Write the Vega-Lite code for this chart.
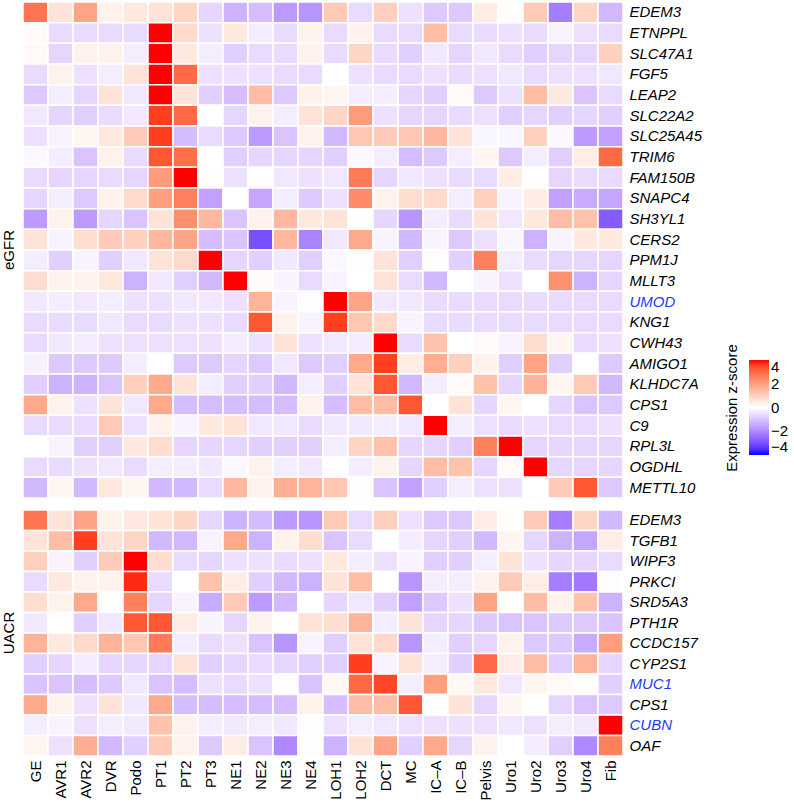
{
"$schema": "https://vega.github.io/schema/vega-lite/v6.json",
"padding": {"left": 2, "top": 1, "right": 0, "bottom": 0},
"background": "white",
"config": {"view": {"stroke": null}, "font": "Liberation Sans", "concat": {"spacing": 10}},
"datasets": {
"egfr": [
{"g":"EDEM3","c":"GE","z":2.8},{"g":"EDEM3","c":"AVR1","z":0.6},{"g":"EDEM3","c":"AVR2","z":1.9},{"g":"EDEM3","c":"DVR","z":0.3},{"g":"EDEM3","c":"Podo","z":0.5},{"g":"EDEM3","c":"PT1","z":0.6},{"g":"EDEM3","c":"PT2","z":0.9},{"g":"EDEM3","c":"PT3","z":-0.7},{"g":"EDEM3","c":"NE1","z":-1.3},{"g":"EDEM3","c":"NE2","z":-1.1},{"g":"EDEM3","c":"NE3","z":-1.7},{"g":"EDEM3","c":"NE4","z":-1.8},{"g":"EDEM3","c":"LOH1","z":1.1},{"g":"EDEM3","c":"LOH2","z":-0.6},{"g":"EDEM3","c":"DCT","z":1.0},{"g":"EDEM3","c":"MC","z":-0.5},{"g":"EDEM3","c":"IC–A","z":-0.9},{"g":"EDEM3","c":"IC–B","z":-0.9},{"g":"EDEM3","c":"Pelvis","z":0.4},{"g":"EDEM3","c":"Uro1","z":0.05},{"g":"EDEM3","c":"Uro2","z":1.1},{"g":"EDEM3","c":"Uro3","z":-2.2},{"g":"EDEM3","c":"Uro4","z":0.9},{"g":"EDEM3","c":"Fib","z":-1.2},
{"g":"ETNPPL","c":"GE","z":0.1},{"g":"ETNPPL","c":"AVR1","z":-0.6},{"g":"ETNPPL","c":"AVR2","z":-0.6},{"g":"ETNPPL","c":"DVR","z":-0.6},{"g":"ETNPPL","c":"Podo","z":-0.6},{"g":"ETNPPL","c":"PT1","z":4.5},{"g":"ETNPPL","c":"PT2","z":0.8},{"g":"ETNPPL","c":"PT3","z":-0.5},{"g":"ETNPPL","c":"NE1","z":0.5},{"g":"ETNPPL","c":"NE2","z":-0.3},{"g":"ETNPPL","c":"NE3","z":-0.6},{"g":"ETNPPL","c":"NE4","z":0.3},{"g":"ETNPPL","c":"LOH1","z":-0.6},{"g":"ETNPPL","c":"LOH2","z":0.3},{"g":"ETNPPL","c":"DCT","z":-0.6},{"g":"ETNPPL","c":"MC","z":-0.6},{"g":"ETNPPL","c":"IC–A","z":1.4},{"g":"ETNPPL","c":"IC–B","z":-0.6},{"g":"ETNPPL","c":"Pelvis","z":-0.6},{"g":"ETNPPL","c":"Uro1","z":-0.5},{"g":"ETNPPL","c":"Uro2","z":-0.6},{"g":"ETNPPL","c":"Uro3","z":-0.2},{"g":"ETNPPL","c":"Uro4","z":-0.5},{"g":"ETNPPL","c":"Fib","z":-0.6},
{"g":"SLC47A1","c":"GE","z":0.1},{"g":"SLC47A1","c":"AVR1","z":-0.7},{"g":"SLC47A1","c":"AVR2","z":0.3},{"g":"SLC47A1","c":"DVR","z":0.3},{"g":"SLC47A1","c":"Podo","z":-0.3},{"g":"SLC47A1","c":"PT1","z":4.5},{"g":"SLC47A1","c":"PT2","z":0.5},{"g":"SLC47A1","c":"PT3","z":-0.3},{"g":"SLC47A1","c":"NE1","z":-0.8},{"g":"SLC47A1","c":"NE2","z":-0.6},{"g":"SLC47A1","c":"NE3","z":-0.6},{"g":"SLC47A1","c":"NE4","z":0.3},{"g":"SLC47A1","c":"LOH1","z":-0.6},{"g":"SLC47A1","c":"LOH2","z":0.9},{"g":"SLC47A1","c":"DCT","z":-0.6},{"g":"SLC47A1","c":"MC","z":-0.8},{"g":"SLC47A1","c":"IC–A","z":-0.4},{"g":"SLC47A1","c":"IC–B","z":-0.7},{"g":"SLC47A1","c":"Pelvis","z":-0.4},{"g":"SLC47A1","c":"Uro1","z":-0.6},{"g":"SLC47A1","c":"Uro2","z":-0.8},{"g":"SLC47A1","c":"Uro3","z":-0.7},{"g":"SLC47A1","c":"Uro4","z":-0.7},{"g":"SLC47A1","c":"Fib","z":1.0},
{"g":"FGF5","c":"GE","z":-0.6},{"g":"FGF5","c":"AVR1","z":0.3},{"g":"FGF5","c":"AVR2","z":-0.5},{"g":"FGF5","c":"DVR","z":-0.3},{"g":"FGF5","c":"Podo","z":0.6},{"g":"FGF5","c":"PT1","z":4.5},{"g":"FGF5","c":"PT2","z":3.0},{"g":"FGF5","c":"PT3","z":-0.5},{"g":"FGF5","c":"NE1","z":-0.5},{"g":"FGF5","c":"NE2","z":-0.5},{"g":"FGF5","c":"NE3","z":-0.6},{"g":"FGF5","c":"NE4","z":-0.6},{"g":"FGF5","c":"LOH1","z":0.0},{"g":"FGF5","c":"LOH2","z":-0.5},{"g":"FGF5","c":"DCT","z":-0.6},{"g":"FGF5","c":"MC","z":-0.6},{"g":"FGF5","c":"IC–A","z":-0.5},{"g":"FGF5","c":"IC–B","z":-0.6},{"g":"FGF5","c":"Pelvis","z":-0.5},{"g":"FGF5","c":"Uro1","z":-0.4},{"g":"FGF5","c":"Uro2","z":-0.6},{"g":"FGF5","c":"Uro3","z":-0.5},{"g":"FGF5","c":"Uro4","z":-0.5},{"g":"FGF5","c":"Fib","z":-0.4},
{"g":"LEAP2","c":"GE","z":-0.9},{"g":"LEAP2","c":"AVR1","z":-0.3},{"g":"LEAP2","c":"AVR2","z":-0.7},{"g":"LEAP2","c":"DVR","z":0.6},{"g":"LEAP2","c":"Podo","z":-0.4},{"g":"LEAP2","c":"PT1","z":4.5},{"g":"LEAP2","c":"PT2","z":0.6},{"g":"LEAP2","c":"PT3","z":-0.8},{"g":"LEAP2","c":"NE1","z":-1.1},{"g":"LEAP2","c":"NE2","z":1.4},{"g":"LEAP2","c":"NE3","z":-0.9},{"g":"LEAP2","c":"NE4","z":0.3},{"g":"LEAP2","c":"LOH1","z":0.2},{"g":"LEAP2","c":"LOH2","z":-0.3},{"g":"LEAP2","c":"DCT","z":-0.3},{"g":"LEAP2","c":"MC","z":-0.7},{"g":"LEAP2","c":"IC–A","z":-0.8},{"g":"LEAP2","c":"IC–B","z":0.1},{"g":"LEAP2","c":"Pelvis","z":-0.9},{"g":"LEAP2","c":"Uro1","z":-0.5},{"g":"LEAP2","c":"Uro2","z":1.4},{"g":"LEAP2","c":"Uro3","z":0.5},{"g":"LEAP2","c":"Uro4","z":-1.0},{"g":"LEAP2","c":"Fib","z":-0.6},
{"g":"SLC22A2","c":"GE","z":-0.4},{"g":"SLC22A2","c":"AVR1","z":-0.7},{"g":"SLC22A2","c":"AVR2","z":-0.8},{"g":"SLC22A2","c":"DVR","z":-0.6},{"g":"SLC22A2","c":"Podo","z":-0.4},{"g":"SLC22A2","c":"PT1","z":3.6},{"g":"SLC22A2","c":"PT2","z":3.0},{"g":"SLC22A2","c":"PT3","z":0.0},{"g":"SLC22A2","c":"NE1","z":-0.7},{"g":"SLC22A2","c":"NE2","z":0.3},{"g":"SLC22A2","c":"NE3","z":-0.3},{"g":"SLC22A2","c":"NE4","z":0.6},{"g":"SLC22A2","c":"LOH1","z":0.9},{"g":"SLC22A2","c":"LOH2","z":2.1},{"g":"SLC22A2","c":"DCT","z":-0.5},{"g":"SLC22A2","c":"MC","z":-0.7},{"g":"SLC22A2","c":"IC–A","z":-0.7},{"g":"SLC22A2","c":"IC–B","z":-0.6},{"g":"SLC22A2","c":"Pelvis","z":-0.5},{"g":"SLC22A2","c":"Uro1","z":-0.8},{"g":"SLC22A2","c":"Uro2","z":-0.7},{"g":"SLC22A2","c":"Uro3","z":-0.8},{"g":"SLC22A2","c":"Uro4","z":-0.7},{"g":"SLC22A2","c":"Fib","z":-0.8},
{"g":"SLC25A45","c":"GE","z":-0.5},{"g":"SLC25A45","c":"AVR1","z":-0.2},{"g":"SLC25A45","c":"AVR2","z":0.2},{"g":"SLC25A45","c":"DVR","z":0.5},{"g":"SLC25A45","c":"Podo","z":1.1},{"g":"SLC25A45","c":"PT1","z":3.6},{"g":"SLC25A45","c":"PT2","z":-1.1},{"g":"SLC25A45","c":"PT3","z":-0.6},{"g":"SLC25A45","c":"NE1","z":-0.9},{"g":"SLC25A45","c":"NE2","z":-1.7},{"g":"SLC25A45","c":"NE3","z":-1.0},{"g":"SLC25A45","c":"NE4","z":0.3},{"g":"SLC25A45","c":"LOH1","z":-1.2},{"g":"SLC25A45","c":"LOH2","z":1.2},{"g":"SLC25A45","c":"DCT","z":1.1},{"g":"SLC25A45","c":"MC","z":1.2},{"g":"SLC25A45","c":"IC–A","z":1.5},{"g":"SLC25A45","c":"IC–B","z":0.6},{"g":"SLC25A45","c":"Pelvis","z":-0.15},{"g":"SLC25A45","c":"Uro1","z":-0.15},{"g":"SLC25A45","c":"Uro2","z":1.0},{"g":"SLC25A45","c":"Uro3","z":-0.1},{"g":"SLC25A45","c":"Uro4","z":-1.7},{"g":"SLC25A45","c":"Fib","z":-1.6},
{"g":"TRIM6","c":"GE","z":-0.1},{"g":"TRIM6","c":"AVR1","z":-0.3},{"g":"TRIM6","c":"AVR2","z":-1.0},{"g":"TRIM6","c":"DVR","z":0.3},{"g":"TRIM6","c":"Podo","z":-0.6},{"g":"TRIM6","c":"PT1","z":3.3},{"g":"TRIM6","c":"PT2","z":2.9},{"g":"TRIM6","c":"PT3","z":0.0},{"g":"TRIM6","c":"NE1","z":-0.8},{"g":"TRIM6","c":"NE2","z":-0.7},{"g":"TRIM6","c":"NE3","z":-0.7},{"g":"TRIM6","c":"NE4","z":-0.7},{"g":"TRIM6","c":"LOH1","z":-0.8},{"g":"TRIM6","c":"LOH2","z":-0.1},{"g":"TRIM6","c":"DCT","z":-0.3},{"g":"TRIM6","c":"MC","z":-1.1},{"g":"TRIM6","c":"IC–A","z":-0.9},{"g":"TRIM6","c":"IC–B","z":-0.3},{"g":"TRIM6","c":"Pelvis","z":0.2},{"g":"TRIM6","c":"Uro1","z":-0.9},{"g":"TRIM6","c":"Uro2","z":-0.3},{"g":"TRIM6","c":"Uro3","z":-0.8},{"g":"TRIM6","c":"Uro4","z":0.4},{"g":"TRIM6","c":"Fib","z":3.0},
{"g":"FAM150B","c":"GE","z":-0.6},{"g":"FAM150B","c":"AVR1","z":-0.7},{"g":"FAM150B","c":"AVR2","z":-0.7},{"g":"FAM150B","c":"DVR","z":-0.6},{"g":"FAM150B","c":"Podo","z":-0.7},{"g":"FAM150B","c":"PT1","z":2.1},{"g":"FAM150B","c":"PT2","z":4.0},{"g":"FAM150B","c":"PT3","z":0.05},{"g":"FAM150B","c":"NE1","z":-0.5},{"g":"FAM150B","c":"NE2","z":0.0},{"g":"FAM150B","c":"NE3","z":-0.4},{"g":"FAM150B","c":"NE4","z":-0.5},{"g":"FAM150B","c":"LOH1","z":-0.4},{"g":"FAM150B","c":"LOH2","z":2.7},{"g":"FAM150B","c":"DCT","z":-0.7},{"g":"FAM150B","c":"MC","z":-0.4},{"g":"FAM150B","c":"IC–A","z":-0.5},{"g":"FAM150B","c":"IC–B","z":-0.6},{"g":"FAM150B","c":"Pelvis","z":-0.6},{"g":"FAM150B","c":"Uro1","z":0.4},{"g":"FAM150B","c":"Uro2","z":0.0},{"g":"FAM150B","c":"Uro3","z":-0.7},{"g":"FAM150B","c":"Uro4","z":-0.6},{"g":"FAM150B","c":"Fib","z":-0.6},
{"g":"SNAPC4","c":"GE","z":-0.7},{"g":"SNAPC4","c":"AVR1","z":-0.3},{"g":"SNAPC4","c":"AVR2","z":-0.9},{"g":"SNAPC4","c":"DVR","z":0.3},{"g":"SNAPC4","c":"Podo","z":0.8},{"g":"SNAPC4","c":"PT1","z":2.0},{"g":"SNAPC4","c":"PT2","z":2.6},{"g":"SNAPC4","c":"PT3","z":-1.6},{"g":"SNAPC4","c":"NE1","z":0.0},{"g":"SNAPC4","c":"NE2","z":-1.5},{"g":"SNAPC4","c":"NE3","z":-0.3},{"g":"SNAPC4","c":"NE4","z":-0.9},{"g":"SNAPC4","c":"LOH1","z":-0.5},{"g":"SNAPC4","c":"LOH2","z":2.4},{"g":"SNAPC4","c":"DCT","z":0.3},{"g":"SNAPC4","c":"MC","z":0.7},{"g":"SNAPC4","c":"IC–A","z":0.8},{"g":"SNAPC4","c":"IC–B","z":-0.3},{"g":"SNAPC4","c":"Pelvis","z":1.0},{"g":"SNAPC4","c":"Uro1","z":-0.2},{"g":"SNAPC4","c":"Uro2","z":0.4},{"g":"SNAPC4","c":"Uro3","z":-1.6},{"g":"SNAPC4","c":"Uro4","z":-1.4},{"g":"SNAPC4","c":"Fib","z":-1.5},
{"g":"SH3YL1","c":"GE","z":-1.7},{"g":"SH3YL1","c":"AVR1","z":0.3},{"g":"SH3YL1","c":"AVR2","z":-1.7},{"g":"SH3YL1","c":"DVR","z":-0.7},{"g":"SH3YL1","c":"Podo","z":-1.0},{"g":"SH3YL1","c":"PT1","z":0.6},{"g":"SH3YL1","c":"PT2","z":2.3},{"g":"SH3YL1","c":"PT3","z":1.5},{"g":"SH3YL1","c":"NE1","z":-1.0},{"g":"SH3YL1","c":"NE2","z":0.3},{"g":"SH3YL1","c":"NE3","z":1.5},{"g":"SH3YL1","c":"NE4","z":0.5},{"g":"SH3YL1","c":"LOH1","z":0.6},{"g":"SH3YL1","c":"LOH2","z":-0.05},{"g":"SH3YL1","c":"DCT","z":-0.7},{"g":"SH3YL1","c":"MC","z":-1.8},{"g":"SH3YL1","c":"IC–A","z":-0.3},{"g":"SH3YL1","c":"IC–B","z":-0.6},{"g":"SH3YL1","c":"Pelvis","z":0.6},{"g":"SH3YL1","c":"Uro1","z":-0.4},{"g":"SH3YL1","c":"Uro2","z":0.5},{"g":"SH3YL1","c":"Uro3","z":1.4},{"g":"SH3YL1","c":"Uro4","z":1.3},{"g":"SH3YL1","c":"Fib","z":-2.8},
{"g":"CERS2","c":"GE","z":0.6},{"g":"CERS2","c":"AVR1","z":-0.2},{"g":"CERS2","c":"AVR2","z":0.7},{"g":"CERS2","c":"DVR","z":1.1},{"g":"CERS2","c":"Podo","z":1.0},{"g":"CERS2","c":"PT1","z":1.5},{"g":"CERS2","c":"PT2","z":1.9},{"g":"CERS2","c":"PT3","z":-1.1},{"g":"CERS2","c":"NE1","z":-1.0},{"g":"CERS2","c":"NE2","z":-3.0},{"g":"CERS2","c":"NE3","z":1.5},{"g":"CERS2","c":"NE4","z":-2.1},{"g":"CERS2","c":"LOH1","z":-0.4},{"g":"CERS2","c":"LOH2","z":1.8},{"g":"CERS2","c":"DCT","z":-0.2},{"g":"CERS2","c":"MC","z":-1.2},{"g":"CERS2","c":"IC–A","z":-0.2},{"g":"CERS2","c":"IC–B","z":-0.9},{"g":"CERS2","c":"Pelvis","z":-0.5},{"g":"CERS2","c":"Uro1","z":-0.15},{"g":"CERS2","c":"Uro2","z":-1.3},{"g":"CERS2","c":"Uro3","z":-0.2},{"g":"CERS2","c":"Uro4","z":0.5},{"g":"CERS2","c":"Fib","z":0.5},
{"g":"PPM1J","c":"GE","z":-0.3},{"g":"PPM1J","c":"AVR1","z":-0.8},{"g":"PPM1J","c":"AVR2","z":-0.2},{"g":"PPM1J","c":"DVR","z":-0.8},{"g":"PPM1J","c":"Podo","z":-0.4},{"g":"PPM1J","c":"PT1","z":0.6},{"g":"PPM1J","c":"PT2","z":0.8},{"g":"PPM1J","c":"PT3","z":4.3},{"g":"PPM1J","c":"NE1","z":-0.7},{"g":"PPM1J","c":"NE2","z":-0.8},{"g":"PPM1J","c":"NE3","z":-0.4},{"g":"PPM1J","c":"NE4","z":-0.8},{"g":"PPM1J","c":"LOH1","z":-0.1},{"g":"PPM1J","c":"LOH2","z":0.05},{"g":"PPM1J","c":"DCT","z":0.6},{"g":"PPM1J","c":"MC","z":-0.8},{"g":"PPM1J","c":"IC–A","z":0.05},{"g":"PPM1J","c":"IC–B","z":-0.8},{"g":"PPM1J","c":"Pelvis","z":2.6},{"g":"PPM1J","c":"Uro1","z":-0.3},{"g":"PPM1J","c":"Uro2","z":-0.6},{"g":"PPM1J","c":"Uro3","z":-0.7},{"g":"PPM1J","c":"Uro4","z":-0.7},{"g":"PPM1J","c":"Fib","z":-0.7},
{"g":"MLLT3","c":"GE","z":0.7},{"g":"MLLT3","c":"AVR1","z":0.3},{"g":"MLLT3","c":"AVR2","z":0.3},{"g":"MLLT3","c":"DVR","z":0.5},{"g":"MLLT3","c":"Podo","z":-1.3},{"g":"MLLT3","c":"PT1","z":-0.4},{"g":"MLLT3","c":"PT2","z":-0.8},{"g":"MLLT3","c":"PT3","z":-1.2},{"g":"MLLT3","c":"NE1","z":4.2},{"g":"MLLT3","c":"NE2","z":0.1},{"g":"MLLT3","c":"NE3","z":-0.2},{"g":"MLLT3","c":"NE4","z":-0.6},{"g":"MLLT3","c":"LOH1","z":-0.2},{"g":"MLLT3","c":"LOH2","z":0.0},{"g":"MLLT3","c":"DCT","z":0.6},{"g":"MLLT3","c":"MC","z":-0.6},{"g":"MLLT3","c":"IC–A","z":-1.2},{"g":"MLLT3","c":"IC–B","z":0.0},{"g":"MLLT3","c":"Pelvis","z":-0.2},{"g":"MLLT3","c":"Uro1","z":-0.5},{"g":"MLLT3","c":"Uro2","z":0.0},{"g":"MLLT3","c":"Uro3","z":2.3},{"g":"MLLT3","c":"Uro4","z":-1.3},{"g":"MLLT3","c":"Fib","z":-0.7},
{"g":"UMOD","c":"GE","z":-0.4},{"g":"UMOD","c":"AVR1","z":-0.3},{"g":"UMOD","c":"AVR2","z":-0.4},{"g":"UMOD","c":"DVR","z":-0.3},{"g":"UMOD","c":"Podo","z":-0.5},{"g":"UMOD","c":"PT1","z":-0.5},{"g":"UMOD","c":"PT2","z":-0.4},{"g":"UMOD","c":"PT3","z":-0.4},{"g":"UMOD","c":"NE1","z":-0.5},{"g":"UMOD","c":"NE2","z":1.6},{"g":"UMOD","c":"NE3","z":-0.2},{"g":"UMOD","c":"NE4","z":-0.05},{"g":"UMOD","c":"LOH1","z":4.5},{"g":"UMOD","c":"LOH2","z":1.9},{"g":"UMOD","c":"DCT","z":-0.4},{"g":"UMOD","c":"MC","z":-0.4},{"g":"UMOD","c":"IC–A","z":-0.6},{"g":"UMOD","c":"IC–B","z":-0.6},{"g":"UMOD","c":"Pelvis","z":-0.6},{"g":"UMOD","c":"Uro1","z":-0.6},{"g":"UMOD","c":"Uro2","z":-0.6},{"g":"UMOD","c":"Uro3","z":-0.6},{"g":"UMOD","c":"Uro4","z":-0.6},{"g":"UMOD","c":"Fib","z":-0.6},
{"g":"KNG1","c":"GE","z":-0.6},{"g":"KNG1","c":"AVR1","z":-0.6},{"g":"KNG1","c":"AVR2","z":-0.6},{"g":"KNG1","c":"DVR","z":-0.4},{"g":"KNG1","c":"Podo","z":-0.6},{"g":"KNG1","c":"PT1","z":-0.6},{"g":"KNG1","c":"PT2","z":-0.5},{"g":"KNG1","c":"PT3","z":-0.5},{"g":"KNG1","c":"NE1","z":-0.6},{"g":"KNG1","c":"NE2","z":3.3},{"g":"KNG1","c":"NE3","z":0.3},{"g":"KNG1","c":"NE4","z":-0.2},{"g":"KNG1","c":"LOH1","z":3.6},{"g":"KNG1","c":"LOH2","z":1.2},{"g":"KNG1","c":"DCT","z":0.8},{"g":"KNG1","c":"MC","z":-0.2},{"g":"KNG1","c":"IC–A","z":-0.6},{"g":"KNG1","c":"IC–B","z":-0.6},{"g":"KNG1","c":"Pelvis","z":-0.6},{"g":"KNG1","c":"Uro1","z":-0.6},{"g":"KNG1","c":"Uro2","z":-0.6},{"g":"KNG1","c":"Uro3","z":-0.6},{"g":"KNG1","c":"Uro4","z":-0.6},{"g":"KNG1","c":"Fib","z":-0.6},
{"g":"CWH43","c":"GE","z":-0.6},{"g":"CWH43","c":"AVR1","z":-0.4},{"g":"CWH43","c":"AVR2","z":-0.3},{"g":"CWH43","c":"DVR","z":-0.5},{"g":"CWH43","c":"Podo","z":-0.5},{"g":"CWH43","c":"PT1","z":-0.5},{"g":"CWH43","c":"PT2","z":-0.5},{"g":"CWH43","c":"PT3","z":-0.5},{"g":"CWH43","c":"NE1","z":-0.3},{"g":"CWH43","c":"NE2","z":-0.5},{"g":"CWH43","c":"NE3","z":0.6},{"g":"CWH43","c":"NE4","z":-0.5},{"g":"CWH43","c":"LOH1","z":-0.4},{"g":"CWH43","c":"LOH2","z":-0.3},{"g":"CWH43","c":"DCT","z":4.5},{"g":"CWH43","c":"MC","z":-0.6},{"g":"CWH43","c":"IC–A","z":1.3},{"g":"CWH43","c":"IC–B","z":0.0},{"g":"CWH43","c":"Pelvis","z":0.1},{"g":"CWH43","c":"Uro1","z":-0.2},{"g":"CWH43","c":"Uro2","z":0.7},{"g":"CWH43","c":"Uro3","z":0.2},{"g":"CWH43","c":"Uro4","z":-0.6},{"g":"CWH43","c":"Fib","z":-0.5},
{"g":"AMIGO1","c":"GE","z":-0.25},{"g":"AMIGO1","c":"AVR1","z":-0.9},{"g":"AMIGO1","c":"AVR2","z":-0.9},{"g":"AMIGO1","c":"DVR","z":-0.9},{"g":"AMIGO1","c":"Podo","z":-0.3},{"g":"AMIGO1","c":"PT1","z":0.0},{"g":"AMIGO1","c":"PT2","z":-0.9},{"g":"AMIGO1","c":"PT3","z":-0.9},{"g":"AMIGO1","c":"NE1","z":-0.7},{"g":"AMIGO1","c":"NE2","z":-0.9},{"g":"AMIGO1","c":"NE3","z":-0.4},{"g":"AMIGO1","c":"NE4","z":-0.9},{"g":"AMIGO1","c":"LOH1","z":-0.8},{"g":"AMIGO1","c":"LOH2","z":1.8},{"g":"AMIGO1","c":"DCT","z":3.6},{"g":"AMIGO1","c":"MC","z":0.4},{"g":"AMIGO1","c":"IC–A","z":1.7},{"g":"AMIGO1","c":"IC–B","z":1.0},{"g":"AMIGO1","c":"Pelvis","z":0.3},{"g":"AMIGO1","c":"Uro1","z":-0.8},{"g":"AMIGO1","c":"Uro2","z":1.9},{"g":"AMIGO1","c":"Uro3","z":-0.8},{"g":"AMIGO1","c":"Uro4","z":0.0},{"g":"AMIGO1","c":"Fib","z":-0.9},
{"g":"KLHDC7A","c":"GE","z":-0.8},{"g":"KLHDC7A","c":"AVR1","z":-1.3},{"g":"KLHDC7A","c":"AVR2","z":-1.3},{"g":"KLHDC7A","c":"DVR","z":-1.0},{"g":"KLHDC7A","c":"Podo","z":1.0},{"g":"KLHDC7A","c":"PT1","z":1.8},{"g":"KLHDC7A","c":"PT2","z":0.6},{"g":"KLHDC7A","c":"PT3","z":-0.3},{"g":"KLHDC7A","c":"NE1","z":-0.8},{"g":"KLHDC7A","c":"NE2","z":-0.8},{"g":"KLHDC7A","c":"NE3","z":-1.2},{"g":"KLHDC7A","c":"NE4","z":-0.3},{"g":"KLHDC7A","c":"LOH1","z":-0.8},{"g":"KLHDC7A","c":"LOH2","z":0.6},{"g":"KLHDC7A","c":"DCT","z":3.3},{"g":"KLHDC7A","c":"MC","z":-1.2},{"g":"KLHDC7A","c":"IC–A","z":-0.3},{"g":"KLHDC7A","c":"IC–B","z":0.1},{"g":"KLHDC7A","c":"Pelvis","z":1.3},{"g":"KLHDC7A","c":"Uro1","z":-0.7},{"g":"KLHDC7A","c":"Uro2","z":1.6},{"g":"KLHDC7A","c":"Uro3","z":0.2},{"g":"KLHDC7A","c":"Uro4","z":1.1},{"g":"KLHDC7A","c":"Fib","z":-1.2},
{"g":"CPS1","c":"GE","z":1.8},{"g":"CPS1","c":"AVR1","z":0.3},{"g":"CPS1","c":"AVR2","z":-0.5},{"g":"CPS1","c":"DVR","z":0.6},{"g":"CPS1","c":"Podo","z":-0.4},{"g":"CPS1","c":"PT1","z":1.8},{"g":"CPS1","c":"PT2","z":-1.1},{"g":"CPS1","c":"PT3","z":-1.1},{"g":"CPS1","c":"NE1","z":-1.1},{"g":"CPS1","c":"NE2","z":-1.1},{"g":"CPS1","c":"NE3","z":-1.1},{"g":"CPS1","c":"NE4","z":0.3},{"g":"CPS1","c":"LOH1","z":-1.1},{"g":"CPS1","c":"LOH2","z":1.4},{"g":"CPS1","c":"DCT","z":1.4},{"g":"CPS1","c":"MC","z":3.3},{"g":"CPS1","c":"IC–A","z":0.0},{"g":"CPS1","c":"IC–B","z":0.6},{"g":"CPS1","c":"Pelvis","z":-0.7},{"g":"CPS1","c":"Uro1","z":0.2},{"g":"CPS1","c":"Uro2","z":0.0},{"g":"CPS1","c":"Uro3","z":-0.7},{"g":"CPS1","c":"Uro4","z":-1.0},{"g":"CPS1","c":"Fib","z":-0.9},
{"g":"C9","c":"GE","z":-0.6},{"g":"C9","c":"AVR1","z":-0.6},{"g":"C9","c":"AVR2","z":-0.6},{"g":"C9","c":"DVR","z":1.1},{"g":"C9","c":"Podo","z":-0.5},{"g":"C9","c":"PT1","z":0.3},{"g":"C9","c":"PT2","z":-0.2},{"g":"C9","c":"PT3","z":0.5},{"g":"C9","c":"NE1","z":0.6},{"g":"C9","c":"NE2","z":-0.4},{"g":"C9","c":"NE3","z":-0.4},{"g":"C9","c":"NE4","z":-0.6},{"g":"C9","c":"LOH1","z":-0.4},{"g":"C9","c":"LOH2","z":-0.4},{"g":"C9","c":"DCT","z":-0.3},{"g":"C9","c":"MC","z":-0.4},{"g":"C9","c":"IC–A","z":4.5},{"g":"C9","c":"IC–B","z":-0.3},{"g":"C9","c":"Pelvis","z":-0.5},{"g":"C9","c":"Uro1","z":-0.6},{"g":"C9","c":"Uro2","z":-0.5},{"g":"C9","c":"Uro3","z":-0.6},{"g":"C9","c":"Uro4","z":-0.6},{"g":"C9","c":"Fib","z":-0.5},
{"g":"RPL3L","c":"GE","z":0.0},{"g":"RPL3L","c":"AVR1","z":-0.2},{"g":"RPL3L","c":"AVR2","z":-0.8},{"g":"RPL3L","c":"DVR","z":-0.8},{"g":"RPL3L","c":"Podo","z":0.5},{"g":"RPL3L","c":"PT1","z":0.7},{"g":"RPL3L","c":"PT2","z":-0.7},{"g":"RPL3L","c":"PT3","z":-0.7},{"g":"RPL3L","c":"NE1","z":-0.7},{"g":"RPL3L","c":"NE2","z":-0.8},{"g":"RPL3L","c":"NE3","z":-0.8},{"g":"RPL3L","c":"NE4","z":-0.8},{"g":"RPL3L","c":"LOH1","z":-0.3},{"g":"RPL3L","c":"LOH2","z":0.9},{"g":"RPL3L","c":"DCT","z":1.3},{"g":"RPL3L","c":"MC","z":-0.7},{"g":"RPL3L","c":"IC–A","z":-0.7},{"g":"RPL3L","c":"IC–B","z":-0.8},{"g":"RPL3L","c":"Pelvis","z":2.6},{"g":"RPL3L","c":"Uro1","z":4.3},{"g":"RPL3L","c":"Uro2","z":-0.7},{"g":"RPL3L","c":"Uro3","z":-0.7},{"g":"RPL3L","c":"Uro4","z":-0.7},{"g":"RPL3L","c":"Fib","z":-0.7},
{"g":"OGDHL","c":"GE","z":-0.6},{"g":"OGDHL","c":"AVR1","z":-0.6},{"g":"OGDHL","c":"AVR2","z":-0.5},{"g":"OGDHL","c":"DVR","z":-0.4},{"g":"OGDHL","c":"Podo","z":-0.6},{"g":"OGDHL","c":"PT1","z":-0.3},{"g":"OGDHL","c":"PT2","z":-0.3},{"g":"OGDHL","c":"PT3","z":-0.4},{"g":"OGDHL","c":"NE1","z":-0.1},{"g":"OGDHL","c":"NE2","z":0.3},{"g":"OGDHL","c":"NE3","z":-0.3},{"g":"OGDHL","c":"NE4","z":-0.4},{"g":"OGDHL","c":"LOH1","z":0.0},{"g":"OGDHL","c":"LOH2","z":-0.3},{"g":"OGDHL","c":"DCT","z":0.3},{"g":"OGDHL","c":"MC","z":-0.7},{"g":"OGDHL","c":"IC–A","z":1.4},{"g":"OGDHL","c":"IC–B","z":1.3},{"g":"OGDHL","c":"Pelvis","z":-0.7},{"g":"OGDHL","c":"Uro1","z":0.1},{"g":"OGDHL","c":"Uro2","z":4.5},{"g":"OGDHL","c":"Uro3","z":-0.7},{"g":"OGDHL","c":"Uro4","z":-0.7},{"g":"OGDHL","c":"Fib","z":-0.7},
{"g":"METTL10","c":"GE","z":-1.2},{"g":"METTL10","c":"AVR1","z":0.2},{"g":"METTL10","c":"AVR2","z":-1.2},{"g":"METTL10","c":"DVR","z":0.5},{"g":"METTL10","c":"Podo","z":0.2},{"g":"METTL10","c":"PT1","z":-1.2},{"g":"METTL10","c":"PT2","z":-1.2},{"g":"METTL10","c":"PT3","z":-0.6},{"g":"METTL10","c":"NE1","z":1.5},{"g":"METTL10","c":"NE2","z":0.3},{"g":"METTL10","c":"NE3","z":1.7},{"g":"METTL10","c":"NE4","z":1.6},{"g":"METTL10","c":"LOH1","z":1.2},{"g":"METTL10","c":"LOH2","z":0.05},{"g":"METTL10","c":"DCT","z":-1.0},{"g":"METTL10","c":"MC","z":-1.6},{"g":"METTL10","c":"IC–A","z":-0.8},{"g":"METTL10","c":"IC–B","z":-0.3},{"g":"METTL10","c":"Pelvis","z":-0.5},{"g":"METTL10","c":"Uro1","z":-0.5},{"g":"METTL10","c":"Uro2","z":0.0},{"g":"METTL10","c":"Uro3","z":1.1},{"g":"METTL10","c":"Uro4","z":3.3},{"g":"METTL10","c":"Fib","z":-0.9}
],
"uacr": [
{"g":"EDEM3","c":"GE","z":2.8},{"g":"EDEM3","c":"AVR1","z":0.6},{"g":"EDEM3","c":"AVR2","z":1.9},{"g":"EDEM3","c":"DVR","z":0.3},{"g":"EDEM3","c":"Podo","z":0.5},{"g":"EDEM3","c":"PT1","z":0.6},{"g":"EDEM3","c":"PT2","z":0.9},{"g":"EDEM3","c":"PT3","z":-0.7},{"g":"EDEM3","c":"NE1","z":-1.3},{"g":"EDEM3","c":"NE2","z":-1.1},{"g":"EDEM3","c":"NE3","z":-1.7},{"g":"EDEM3","c":"NE4","z":-1.8},{"g":"EDEM3","c":"LOH1","z":1.1},{"g":"EDEM3","c":"LOH2","z":-0.6},{"g":"EDEM3","c":"DCT","z":1.0},{"g":"EDEM3","c":"MC","z":-0.5},{"g":"EDEM3","c":"IC–A","z":-0.9},{"g":"EDEM3","c":"IC–B","z":-0.9},{"g":"EDEM3","c":"Pelvis","z":0.4},{"g":"EDEM3","c":"Uro1","z":0.05},{"g":"EDEM3","c":"Uro2","z":1.1},{"g":"EDEM3","c":"Uro3","z":-2.2},{"g":"EDEM3","c":"Uro4","z":0.9},{"g":"EDEM3","c":"Fib","z":-1.2},
{"g":"TGFB1","c":"GE","z":0.6},{"g":"TGFB1","c":"AVR1","z":1.4},{"g":"TGFB1","c":"AVR2","z":3.6},{"g":"TGFB1","c":"DVR","z":0.6},{"g":"TGFB1","c":"Podo","z":0.9},{"g":"TGFB1","c":"PT1","z":-1.2},{"g":"TGFB1","c":"PT2","z":-1.2},{"g":"TGFB1","c":"PT3","z":-0.2},{"g":"TGFB1","c":"NE1","z":1.8},{"g":"TGFB1","c":"NE2","z":-1.3},{"g":"TGFB1","c":"NE3","z":0.3},{"g":"TGFB1","c":"NE4","z":0.7},{"g":"TGFB1","c":"LOH1","z":-1.0},{"g":"TGFB1","c":"LOH2","z":-0.6},{"g":"TGFB1","c":"DCT","z":0.0},{"g":"TGFB1","c":"MC","z":-0.3},{"g":"TGFB1","c":"IC–A","z":-0.7},{"g":"TGFB1","c":"IC–B","z":-0.8},{"g":"TGFB1","c":"Pelvis","z":-1.2},{"g":"TGFB1","c":"Uro1","z":0.2},{"g":"TGFB1","c":"Uro2","z":-0.7},{"g":"TGFB1","c":"Uro3","z":-1.3},{"g":"TGFB1","c":"Uro4","z":-1.5},{"g":"TGFB1","c":"Fib","z":0.4},
{"g":"WIPF3","c":"GE","z":1.0},{"g":"WIPF3","c":"AVR1","z":-0.2},{"g":"WIPF3","c":"AVR2","z":-0.8},{"g":"WIPF3","c":"DVR","z":1.1},{"g":"WIPF3","c":"Podo","z":4.5},{"g":"WIPF3","c":"PT1","z":0.7},{"g":"WIPF3","c":"PT2","z":-0.6},{"g":"WIPF3","c":"PT3","z":-0.7},{"g":"WIPF3","c":"NE1","z":-0.5},{"g":"WIPF3","c":"NE2","z":-0.5},{"g":"WIPF3","c":"NE3","z":-0.6},{"g":"WIPF3","c":"NE4","z":-0.5},{"g":"WIPF3","c":"LOH1","z":0.5},{"g":"WIPF3","c":"LOH2","z":-0.3},{"g":"WIPF3","c":"DCT","z":-0.5},{"g":"WIPF3","c":"MC","z":-0.2},{"g":"WIPF3","c":"IC–A","z":-0.8},{"g":"WIPF3","c":"IC–B","z":-0.8},{"g":"WIPF3","c":"Pelvis","z":-0.3},{"g":"WIPF3","c":"Uro1","z":0.6},{"g":"WIPF3","c":"Uro2","z":-0.5},{"g":"WIPF3","c":"Uro3","z":-0.7},{"g":"WIPF3","c":"Uro4","z":-0.7},{"g":"WIPF3","c":"Fib","z":-0.6},
{"g":"PRKCI","c":"GE","z":-0.6},{"g":"PRKCI","c":"AVR1","z":0.5},{"g":"PRKCI","c":"AVR2","z":0.3},{"g":"PRKCI","c":"DVR","z":0.3},{"g":"PRKCI","c":"Podo","z":3.8},{"g":"PRKCI","c":"PT1","z":-0.6},{"g":"PRKCI","c":"PT2","z":0.0},{"g":"PRKCI","c":"PT3","z":1.3},{"g":"PRKCI","c":"NE1","z":0.4},{"g":"PRKCI","c":"NE2","z":-0.8},{"g":"PRKCI","c":"NE3","z":-1.2},{"g":"PRKCI","c":"NE4","z":-1.3},{"g":"PRKCI","c":"LOH1","z":0.6},{"g":"PRKCI","c":"LOH2","z":1.4},{"g":"PRKCI","c":"DCT","z":0.0},{"g":"PRKCI","c":"MC","z":-1.8},{"g":"PRKCI","c":"IC–A","z":-0.3},{"g":"PRKCI","c":"IC–B","z":-0.3},{"g":"PRKCI","c":"Pelvis","z":0.3},{"g":"PRKCI","c":"Uro1","z":1.1},{"g":"PRKCI","c":"Uro2","z":0.4},{"g":"PRKCI","c":"Uro3","z":-2.2},{"g":"PRKCI","c":"Uro4","z":-2.3},{"g":"PRKCI","c":"Fib","z":-0.05},
{"g":"SRD5A3","c":"GE","z":0.7},{"g":"SRD5A3","c":"AVR1","z":0.3},{"g":"SRD5A3","c":"AVR2","z":1.8},{"g":"SRD5A3","c":"DVR","z":0.0},{"g":"SRD5A3","c":"Podo","z":2.6},{"g":"SRD5A3","c":"PT1","z":-0.7},{"g":"SRD5A3","c":"PT2","z":-0.2},{"g":"SRD5A3","c":"PT3","z":-1.4},{"g":"SRD5A3","c":"NE1","z":1.1},{"g":"SRD5A3","c":"NE2","z":-1.7},{"g":"SRD5A3","c":"NE3","z":-1.2},{"g":"SRD5A3","c":"NE4","z":0.0},{"g":"SRD5A3","c":"LOH1","z":-0.7},{"g":"SRD5A3","c":"LOH2","z":-0.4},{"g":"SRD5A3","c":"DCT","z":-0.8},{"g":"SRD5A3","c":"MC","z":-1.6},{"g":"SRD5A3","c":"IC–A","z":-0.9},{"g":"SRD5A3","c":"IC–B","z":-0.5},{"g":"SRD5A3","c":"Pelvis","z":1.9},{"g":"SRD5A3","c":"Uro1","z":0.0},{"g":"SRD5A3","c":"Uro2","z":1.4},{"g":"SRD5A3","c":"Uro3","z":0.3},{"g":"SRD5A3","c":"Uro4","z":1.3},{"g":"SRD5A3","c":"Fib","z":-1.3},
{"g":"PTH1R","c":"GE","z":-0.4},{"g":"PTH1R","c":"AVR1","z":0.0},{"g":"PTH1R","c":"AVR2","z":-0.8},{"g":"PTH1R","c":"DVR","z":-0.4},{"g":"PTH1R","c":"Podo","z":3.3},{"g":"PTH1R","c":"PT1","z":3.3},{"g":"PTH1R","c":"PT2","z":0.4},{"g":"PTH1R","c":"PT3","z":-0.2},{"g":"PTH1R","c":"NE1","z":-0.7},{"g":"PTH1R","c":"NE2","z":0.3},{"g":"PTH1R","c":"NE3","z":0.0},{"g":"PTH1R","c":"NE4","z":0.6},{"g":"PTH1R","c":"LOH1","z":0.7},{"g":"PTH1R","c":"LOH2","z":1.6},{"g":"PTH1R","c":"DCT","z":-0.3},{"g":"PTH1R","c":"MC","z":0.6},{"g":"PTH1R","c":"IC–A","z":-0.7},{"g":"PTH1R","c":"IC–B","z":-0.7},{"g":"PTH1R","c":"Pelvis","z":-0.9},{"g":"PTH1R","c":"Uro1","z":-1.0},{"g":"PTH1R","c":"Uro2","z":-1.0},{"g":"PTH1R","c":"Uro3","z":-0.9},{"g":"PTH1R","c":"Uro4","z":-0.9},{"g":"PTH1R","c":"Fib","z":-1.0},
{"g":"CCDC157","c":"GE","z":1.6},{"g":"CCDC157","c":"AVR1","z":0.5},{"g":"CCDC157","c":"AVR2","z":0.8},{"g":"CCDC157","c":"DVR","z":1.6},{"g":"CCDC157","c":"Podo","z":1.2},{"g":"CCDC157","c":"PT1","z":2.7},{"g":"CCDC157","c":"PT2","z":-0.3},{"g":"CCDC157","c":"PT3","z":-0.6},{"g":"CCDC157","c":"NE1","z":-0.5},{"g":"CCDC157","c":"NE2","z":-1.0},{"g":"CCDC157","c":"NE3","z":-1.8},{"g":"CCDC157","c":"NE4","z":-0.2},{"g":"CCDC157","c":"LOH1","z":-0.8},{"g":"CCDC157","c":"LOH2","z":0.6},{"g":"CCDC157","c":"DCT","z":0.8},{"g":"CCDC157","c":"MC","z":-1.8},{"g":"CCDC157","c":"IC–A","z":-0.3},{"g":"CCDC157","c":"IC–B","z":-0.8},{"g":"CCDC157","c":"Pelvis","z":-0.7},{"g":"CCDC157","c":"Uro1","z":0.3},{"g":"CCDC157","c":"Uro2","z":-0.9},{"g":"CCDC157","c":"Uro3","z":-0.9},{"g":"CCDC157","c":"Uro4","z":-1.4},{"g":"CCDC157","c":"Fib","z":2.0},
{"g":"CYP2S1","c":"GE","z":-0.8},{"g":"CYP2S1","c":"AVR1","z":-0.7},{"g":"CYP2S1","c":"AVR2","z":-0.3},{"g":"CYP2S1","c":"DVR","z":-0.7},{"g":"CYP2S1","c":"Podo","z":-0.7},{"g":"CYP2S1","c":"PT1","z":-0.7},{"g":"CYP2S1","c":"PT2","z":0.6},{"g":"CYP2S1","c":"PT3","z":-0.8},{"g":"CYP2S1","c":"NE1","z":-0.7},{"g":"CYP2S1","c":"NE2","z":-0.6},{"g":"CYP2S1","c":"NE3","z":-0.7},{"g":"CYP2S1","c":"NE4","z":-0.8},{"g":"CYP2S1","c":"LOH1","z":-0.8},{"g":"CYP2S1","c":"LOH2","z":3.6},{"g":"CYP2S1","c":"DCT","z":-0.2},{"g":"CYP2S1","c":"MC","z":0.6},{"g":"CYP2S1","c":"IC–A","z":-0.3},{"g":"CYP2S1","c":"IC–B","z":-0.8},{"g":"CYP2S1","c":"Pelvis","z":3.0},{"g":"CYP2S1","c":"Uro1","z":0.4},{"g":"CYP2S1","c":"Uro2","z":1.4},{"g":"CYP2S1","c":"Uro3","z":-0.8},{"g":"CYP2S1","c":"Uro4","z":1.6},{"g":"CYP2S1","c":"Fib","z":-0.7},
{"g":"MUC1","c":"GE","z":-1.0},{"g":"MUC1","c":"AVR1","z":-1.0},{"g":"MUC1","c":"AVR2","z":-1.1},{"g":"MUC1","c":"DVR","z":-0.9},{"g":"MUC1","c":"Podo","z":-0.4},{"g":"MUC1","c":"PT1","z":-1.0},{"g":"MUC1","c":"PT2","z":-1.1},{"g":"MUC1","c":"PT3","z":-0.5},{"g":"MUC1","c":"NE1","z":-0.6},{"g":"MUC1","c":"NE2","z":-0.5},{"g":"MUC1","c":"NE3","z":0.0},{"g":"MUC1","c":"NE4","z":-1.0},{"g":"MUC1","c":"LOH1","z":0.15},{"g":"MUC1","c":"LOH2","z":3.0},{"g":"MUC1","c":"DCT","z":3.5},{"g":"MUC1","c":"MC","z":-0.3},{"g":"MUC1","c":"IC–A","z":2.0},{"g":"MUC1","c":"IC–B","z":0.15},{"g":"MUC1","c":"Pelvis","z":0.5},{"g":"MUC1","c":"Uro1","z":-0.4},{"g":"MUC1","c":"Uro2","z":0.2},{"g":"MUC1","c":"Uro3","z":0.1},{"g":"MUC1","c":"Uro4","z":0.05},{"g":"MUC1","c":"Fib","z":-0.8},
{"g":"CPS1","c":"GE","z":1.8},{"g":"CPS1","c":"AVR1","z":0.3},{"g":"CPS1","c":"AVR2","z":-0.5},{"g":"CPS1","c":"DVR","z":0.6},{"g":"CPS1","c":"Podo","z":-0.4},{"g":"CPS1","c":"PT1","z":1.8},{"g":"CPS1","c":"PT2","z":-1.1},{"g":"CPS1","c":"PT3","z":-1.1},{"g":"CPS1","c":"NE1","z":-1.1},{"g":"CPS1","c":"NE2","z":-1.1},{"g":"CPS1","c":"NE3","z":-1.1},{"g":"CPS1","c":"NE4","z":0.3},{"g":"CPS1","c":"LOH1","z":-1.1},{"g":"CPS1","c":"LOH2","z":1.4},{"g":"CPS1","c":"DCT","z":1.4},{"g":"CPS1","c":"MC","z":3.3},{"g":"CPS1","c":"IC–A","z":0.0},{"g":"CPS1","c":"IC–B","z":0.6},{"g":"CPS1","c":"Pelvis","z":-0.7},{"g":"CPS1","c":"Uro1","z":0.2},{"g":"CPS1","c":"Uro2","z":0.0},{"g":"CPS1","c":"Uro3","z":-0.7},{"g":"CPS1","c":"Uro4","z":-1.0},{"g":"CPS1","c":"Fib","z":-0.9},
{"g":"CUBN","c":"GE","z":-0.3},{"g":"CUBN","c":"AVR1","z":-0.2},{"g":"CUBN","c":"AVR2","z":-0.5},{"g":"CUBN","c":"DVR","z":-0.3},{"g":"CUBN","c":"Podo","z":-0.4},{"g":"CUBN","c":"PT1","z":1.3},{"g":"CUBN","c":"PT2","z":0.3},{"g":"CUBN","c":"PT3","z":-0.3},{"g":"CUBN","c":"NE1","z":-0.4},{"g":"CUBN","c":"NE2","z":-0.3},{"g":"CUBN","c":"NE3","z":-0.4},{"g":"CUBN","c":"NE4","z":0.05},{"g":"CUBN","c":"LOH1","z":-0.5},{"g":"CUBN","c":"LOH2","z":-0.3},{"g":"CUBN","c":"DCT","z":-0.4},{"g":"CUBN","c":"MC","z":-0.5},{"g":"CUBN","c":"IC–A","z":-0.5},{"g":"CUBN","c":"IC–B","z":-0.5},{"g":"CUBN","c":"Pelvis","z":-0.5},{"g":"CUBN","c":"Uro1","z":-0.4},{"g":"CUBN","c":"Uro2","z":-0.5},{"g":"CUBN","c":"Uro3","z":-0.3},{"g":"CUBN","c":"Uro4","z":-0.4},{"g":"CUBN","c":"Fib","z":4.5},
{"g":"OAF","c":"GE","z":0.2},{"g":"OAF","c":"AVR1","z":-0.5},{"g":"OAF","c":"AVR2","z":1.7},{"g":"OAF","c":"DVR","z":-1.2},{"g":"OAF","c":"Podo","z":-0.8},{"g":"OAF","c":"PT1","z":1.1},{"g":"OAF","c":"PT2","z":0.3},{"g":"OAF","c":"PT3","z":-0.9},{"g":"OAF","c":"NE1","z":0.4},{"g":"OAF","c":"NE2","z":-1.0},{"g":"OAF","c":"NE3","z":-2.0},{"g":"OAF","c":"NE4","z":0.05},{"g":"OAF","c":"LOH1","z":-1.3},{"g":"OAF","c":"LOH2","z":0.6},{"g":"OAF","c":"DCT","z":1.9},{"g":"OAF","c":"MC","z":-0.8},{"g":"OAF","c":"IC–A","z":1.8},{"g":"OAF","c":"IC–B","z":-0.7},{"g":"OAF","c":"Pelvis","z":0.3},{"g":"OAF","c":"Uro1","z":0.0},{"g":"OAF","c":"Uro2","z":-0.3},{"g":"OAF","c":"Uro3","z":-0.8},{"g":"OAF","c":"Uro4","z":-2.0},{"g":"OAF","c":"Fib","z":2.6}
]
},
"vconcat": [
{
"data": {"name": "egfr"},
"width": 600,
"height": 496,
"title": {"text": "eGFR", "orient": "left", "anchor": "middle", "fontSize": 15, "fontWeight": "normal", "font": "Liberation Sans", "color": "black", "offset": 5},
"mark": {"type": "rect", "stroke": "white", "strokeWidth": 1.5},
"encoding": {
"x": {"field": "c", "type": "nominal", "sort": ["GE","AVR1","AVR2","DVR","Podo","PT1","PT2","PT3","NE1","NE2","NE3","NE4","LOH1","LOH2","DCT","MC","IC–A","IC–B","Pelvis","Uro1","Uro2","Uro3","Uro4","Fib"], "axis": null},
"y": {"field": "g", "type": "nominal", "sort": ["EDEM3","ETNPPL","SLC47A1","FGF5","LEAP2","SLC22A2","SLC25A45","TRIM6","FAM150B","SNAPC4","SH3YL1","CERS2","PPM1J","MLLT3","UMOD","KNG1","CWH43","AMIGO1","KLHDC7A","CPS1","C9","RPL3L","OGDHL","METTL10"], "axis": {"orient": "right", "title": null, "domain": false, "ticks": false, "labelFont": "Liberation Sans", "labelFontStyle": "italic", "labelFontSize": 15, "labelPadding": 6, "labelColor": {"expr": "datum.value === 'UMOD' ? '#1f3cf5' : '#000000'"}}},
"color": {"field": "z", "type": "quantitative", "scale": {"domain": [-4, 0, 4], "range": ["#0000ff", "#ffffff", "#ff0000"], "interpolate": "lab", "clamp": true},
"legend": {"title": "Expression z-score", "orient": "none", "legendX": 702, "legendY": 358, "titleOrient": "left", "titleAnchor": "middle", "titleFontSize": 15, "titleFontWeight": "normal", "titleFont": "Liberation Sans", "titleColor": "black", "titlePadding": 8, "gradientLength": 95, "gradientThickness": 20, "labelFontSize": 15, "labelFont": "Liberation Sans", "labelColor": "black", "values": [-4, -2, 0, 2, 4], "labelOverlap": false, "direction": "vertical"}}
}
},
{
"data": {"name": "uacr"},
"width": 600,
"height": 246,
"title": {"text": "UACR", "orient": "left", "anchor": "middle", "fontSize": 15, "fontWeight": "normal", "font": "Liberation Sans", "color": "black", "offset": 5},
"mark": {"type": "rect", "stroke": "white", "strokeWidth": 1.5},
"encoding": {
"x": {"field": "c", "type": "nominal", "sort": ["GE","AVR1","AVR2","DVR","Podo","PT1","PT2","PT3","NE1","NE2","NE3","NE4","LOH1","LOH2","DCT","MC","IC–A","IC–B","Pelvis","Uro1","Uro2","Uro3","Uro4","Fib"], "axis": {"orient": "bottom", "title": null, "domain": false, "ticks": false, "labelAngle": -90, "labelFont": "Liberation Sans", "labelFontSize": 15, "labelPadding": 4, "labelColor": "black"}},
"y": {"field": "g", "type": "nominal", "sort": ["EDEM3","TGFB1","WIPF3","PRKCI","SRD5A3","PTH1R","CCDC157","CYP2S1","MUC1","CPS1","CUBN","OAF"], "axis": {"orient": "right", "title": null, "domain": false, "ticks": false, "labelFont": "Liberation Sans", "labelFontStyle": "italic", "labelFontSize": 15, "labelPadding": 6, "labelColor": {"expr": "datum.value === 'MUC1' || datum.value === 'CUBN' ? '#1f3cf5' : '#000000'"}}},
"color": {"field": "z", "type": "quantitative", "scale": {"domain": [-4, 0, 4], "range": ["#0000ff", "#ffffff", "#ff0000"], "interpolate": "lab", "clamp": true}}
}
}
]
}
